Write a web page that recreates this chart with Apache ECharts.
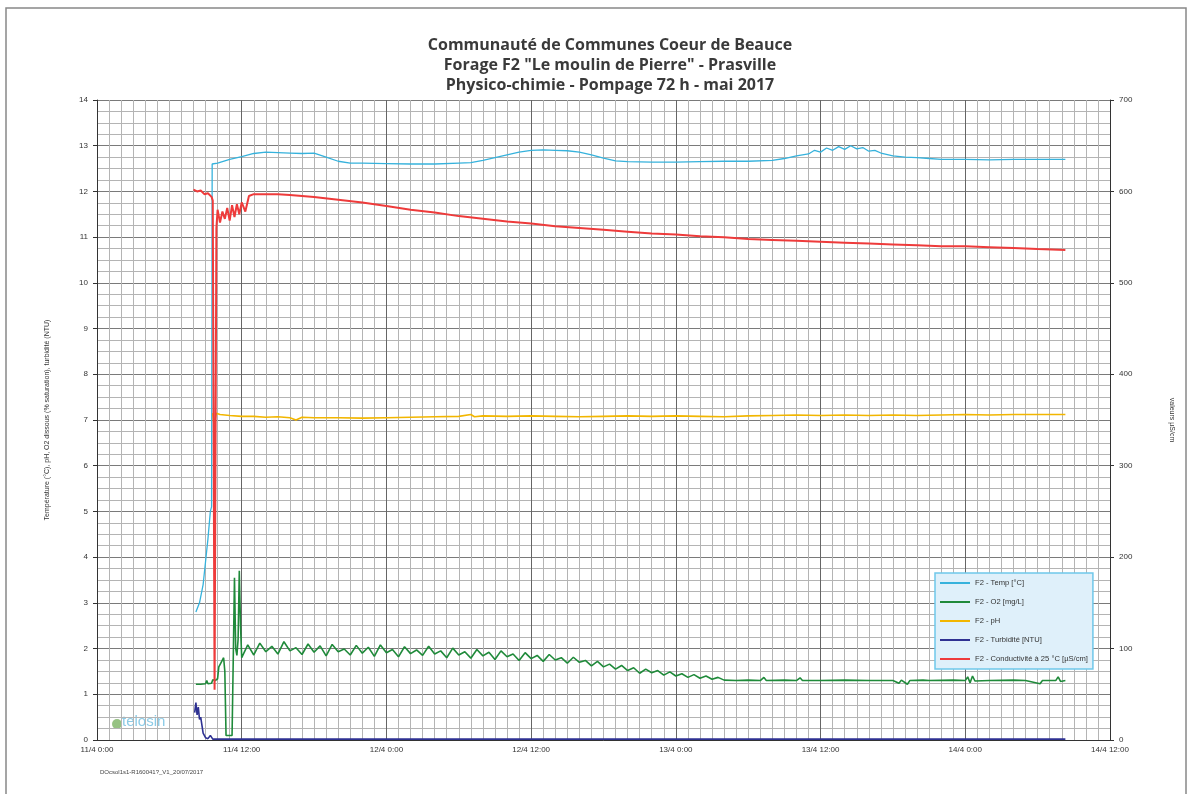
<!DOCTYPE html>
<html><head><meta charset="utf-8">
<script src="https://cdn.jsdelivr.net/npm/echarts@6/dist/echarts.min.js"></script>
<style>html,body{margin:0;padding:0;background:#fff}#c{width:1192px;height:794px}</style>
</head><body><div id="c"></div>
<script>
// X tick labels (every 12 h from 11/4 0:00)
const xTickLabels = ["11/4 0:00","11/4 12:00","12/4 0:00","12/4 12:00","13/4 0:00","13/4 12:00","14/4 0:00","14/4 12:00"];
// hours since 11/4 0:00
const tempHours = [8.2,8.5,8.8,9.0,9.2,9.4,9.5,9.55,10,11,12,13,14,15,16,17,18,19,20,21,22,24,26,28,30,31,32,33,34,35,36,37,38,39,40,41,42,43,44,46,48,50,52,54,56,57,58,59,59.5,60,60.5,61,61.5,62,62.5,63,63.5,64,64.5,65,66,67,68,69,70,72,74,76,78,80.3];
const tempValues = [2.8,3.0,3.4,3.9,4.4,5.0,5.1,12.6,12.62,12.7,12.76,12.83,12.86,12.85,12.84,12.83,12.84,12.75,12.66,12.62,12.62,12.61,12.6,12.6,12.62,12.63,12.68,12.74,12.8,12.86,12.9,12.91,12.9,12.89,12.86,12.8,12.73,12.67,12.65,12.64,12.64,12.65,12.66,12.66,12.68,12.72,12.78,12.82,12.9,12.86,12.95,12.9,12.98,12.92,13.0,12.93,12.96,12.88,12.9,12.84,12.78,12.75,12.74,12.72,12.7,12.7,12.69,12.7,12.7,12.7];

const o2Hours = [8.2,8.6,9.0,9.1,9.2,9.5,9.6,9.8,10.0,10.1,10.3,10.5,10.6,10.7,11.2,11.3,11.4,11.5,11.6,11.7,11.8,11.9,
12.0,12.5,13.0,13.5,14.0,14.5,15.0,15.5,16.0,16.5,17.0,17.5,18.0,18.5,19.0,19.5,20.0,20.5,21.0,21.5,22.0,22.5,23.0,23.5,24.0,24.5,25.0,25.5,26.0,26.5,27.0,27.5,28.0,28.5,29.0,29.5,30.0,30.5,31.0,31.5,32.0,32.5,33.0,33.5,34.0,34.5,35.0,35.5,36.0,36.5,37.0,37.5,38.0,38.5,39.0,39.5,40.0,40.5,41.0,41.5,42.0,42.5,43.0,43.5,44.0,44.5,45.0,45.5,46.0,46.5,47.0,47.5,48.0,48.5,49.0,49.5,50.0,50.5,51.0,51.5,52.0,
53,54,55,55.3,55.5,57,58,58.3,58.5,60,62,64,66,66.5,66.7,67.2,67.4,68.5,69,71,72,72.2,72.4,72.6,72.8,74,76,77,78.2,78.4,79.5,79.7,79.9,80.3];
const o2Values = [1.22,1.22,1.23,1.3,1.23,1.24,1.32,1.3,1.34,1.6,1.7,1.8,1.5,0.1,0.1,1.8,3.55,2.0,1.85,2.2,3.7,2.5,
1.80,2.08,1.86,2.12,1.93,2.05,1.88,2.15,1.95,2.02,1.87,2.10,1.92,2.06,1.84,2.09,1.93,1.99,1.86,2.07,1.90,2.03,1.83,2.08,1.91,1.98,1.82,2.04,1.89,1.97,1.85,2.05,1.88,1.95,1.80,2.01,1.86,1.93,1.79,1.98,1.84,1.92,1.76,1.95,1.82,1.88,1.74,1.91,1.78,1.85,1.72,1.87,1.75,1.80,1.68,1.81,1.70,1.74,1.62,1.72,1.60,1.66,1.55,1.63,1.52,1.58,1.46,1.55,1.47,1.52,1.42,1.49,1.40,1.45,1.37,1.43,1.35,1.40,1.33,1.37,1.31,
1.30,1.31,1.30,1.37,1.30,1.31,1.30,1.36,1.30,1.30,1.31,1.30,1.30,1.24,1.31,1.22,1.30,1.31,1.30,1.31,1.30,1.38,1.25,1.40,1.29,1.30,1.31,1.30,1.23,1.30,1.30,1.38,1.28,1.30];

const phHours = [9.6,9.7,9.9,10.2,11,12,13,14,15,16,16.5,17,18,20,22,24,26,28,30,31,31.3,32,34,36,38,40,42,44,46,48,50,52,54,56,58,60,62,64,66,68,70,72,74,76,78,80.3];
const phValues = [7.15,6.9,7.15,7.12,7.1,7.08,7.08,7.06,7.07,7.05,7.0,7.06,7.05,7.05,7.04,7.05,7.06,7.07,7.08,7.12,7.07,7.09,7.08,7.09,7.08,7.07,7.08,7.09,7.08,7.09,7.08,7.07,7.09,7.1,7.11,7.1,7.11,7.1,7.11,7.1,7.11,7.12,7.11,7.12,7.12,7.12];

const turbHours = [8.1,8.2,8.3,8.4,8.5,8.6,8.8,9.0,9.2,9.4,9.6,12,80.3];
const turbValues = [0.6,0.82,0.55,0.72,0.45,0.5,0.15,0.05,0.03,0.1,0.02,0.02,0.02];

const condHours = [8.0,8.3,8.6,8.9,9.2,9.5,9.6,9.75,9.9,10.0,10.2,10.4,10.6,10.8,11.0,11.2,11.4,11.6,11.8,12.0,12.3,12.6,13,14,15,16,17,18,20,22,24,26,28,30,32,34,36,38,40,42,44,46,48,50,52,54,56,58,60,62,64,66,68,70,72,74,76,78,80.3];
const condValues = [602,600,601,597,598,594,590,55,560,580,566,578,570,582,568,585,572,586,575,588,578,595,597,597,597,596,595,594,591,588,584,580,577,573,570,567,565,562,560,558,556,554,553,551,550,548,547,546,545,544,543,542,541,540,540,539,538,537,536];

const seriesNames = ["F2 - Temp [°C]","F2 - O2 [mg/L]","F2 - pH","F2 - Turbidité [NTU]","F2 - Conductivité à 25 °C [µS/cm]"];
const titleLines = ["Communauté de Communes Coeur de Beauce","Forage F2 \"Le moulin de Pierre\" - Prasville","Physico-chimie - Pompage 72 h - mai 2017"];

function zip(a,b){return a.map((v,i)=>[v,b[i]]);}

const chart = echarts.init(document.getElementById('c'), null, {renderer:'canvas'});
const lineBase = {type:'line', symbol:'none', showSymbol:false, animation:false};
chart.setOption({
  backgroundColor:'#fff',
  animation:false,
  title:{text:titleLines.join('\n'), left:605, top:30, textAlign:'center',
    textStyle:{fontFamily:'Open Sans, Liberation Sans, sans-serif', fontSize:16, fontWeight:'bold', color:'#3a3a3a', lineHeight:20}},
  legend:{orient:'vertical', left:935, top:573,
    backgroundColor:'#dff0fa', borderColor:'#6fc7ea', borderWidth:1.5, borderRadius:0,
    padding:[6,5,6,5], itemGap:11, itemWidth:30, itemHeight:2,
    icon:'rect',
    textStyle:{fontSize:7.6, color:'#333', fontFamily:'Liberation Sans, sans-serif'},
    data:seriesNames},
  grid:{left:97, right:82, top:100, bottom:54, containLabel:false},
  xAxis:{type:'value', min:0, max:84, interval:12,
    axisLine:{show:true, lineStyle:{color:'#333', width:1}},
    axisTick:{show:false},
    axisLabel:{fontSize:8, color:'#333', margin:6, formatter:(v)=>xTickLabels[Math.round(v/12)] || ''},
    splitLine:{show:true, lineStyle:{color:'#666', width:1}},
    minorTick:{show:false, splitNumber:12},
    minorSplitLine:{show:true, lineStyle:{color:'#b4b4b4', width:1}}},
  yAxis:[
    {type:'value', min:0, max:14, interval:1,
     name:'Température (°C), pH, O2 dissous (% saturation), turbidité (NTU)',
     nameLocation:'middle', nameGap:46, nameRotate:90,
     nameTextStyle:{fontSize:7, color:'#333'},
     axisLine:{show:true, lineStyle:{color:'#333'}},
     axisTick:{show:true, length:4, lineStyle:{color:'#333'}},
     axisLabel:{fontSize:8, color:'#333', margin:9},
     splitLine:{show:true, lineStyle:{color:'#7a7a7a', width:1}},
     minorTick:{show:false, splitNumber:4},
     minorSplitLine:{show:true, lineStyle:{color:'#b4b4b4', width:1}}},
    {type:'value', min:0, max:700, interval:100, position:'right',
     name:'valeurs µS/cm', nameLocation:'middle', nameGap:58, nameRotate:-90,
     nameTextStyle:{fontSize:7, color:'#333'},
     axisLine:{show:true, lineStyle:{color:'#333'}},
     axisTick:{show:true, length:4, inside:false, lineStyle:{color:'#333'}},
     axisLabel:{fontSize:8, color:'#333', margin:9},
     splitLine:{show:false}}
  ],
  series:[
    Object.assign({}, lineBase, {name:seriesNames[0], yAxisIndex:0, data:zip(tempHours,tempValues), lineStyle:{color:'#36b2dc', width:1.3}, itemStyle:{color:'#36b2dc'}}),
    Object.assign({}, lineBase, {name:seriesNames[1], yAxisIndex:0, data:zip(o2Hours,o2Values), lineStyle:{color:'#1f8a3a', width:1.6}, itemStyle:{color:'#1f8a3a'}}),
    Object.assign({}, lineBase, {name:seriesNames[2], yAxisIndex:0, data:zip(phHours,phValues), lineStyle:{color:'#f2b600', width:1.6}, itemStyle:{color:'#f2b600'}}),
    Object.assign({}, lineBase, {name:seriesNames[3], yAxisIndex:0, data:zip(turbHours,turbValues), lineStyle:{color:'#2e3192', width:1.6}, itemStyle:{color:'#2e3192'}}),
    Object.assign({}, lineBase, {name:seriesNames[4], yAxisIndex:1, data:zip(condHours,condValues), lineStyle:{color:'#ee3b3b', width:2}, itemStyle:{color:'#ee3b3b'}})
  ],
  graphic:[
    {type:'rect', shape:{x:6, y:8, width:1180, height:800}, style:{fill:'none', stroke:'#888', lineWidth:1.5}, silent:true},
    {type:'circle', shape:{cx:117, cy:724, r:5}, style:{fill:'#6aa84f', opacity:0.7}},
    {type:'text', left:122, top:714, style:{text:'telosin', fontSize:15, fill:'#8ccbe6', fontFamily:'Liberation Sans, sans-serif'}},
    {type:'text', left:100, top:769, style:{text:'DOcsol1s1-R160041?_V1_20/07/2017', fontSize:6, fill:'#444'}}
  ]
});
</script></body></html>
